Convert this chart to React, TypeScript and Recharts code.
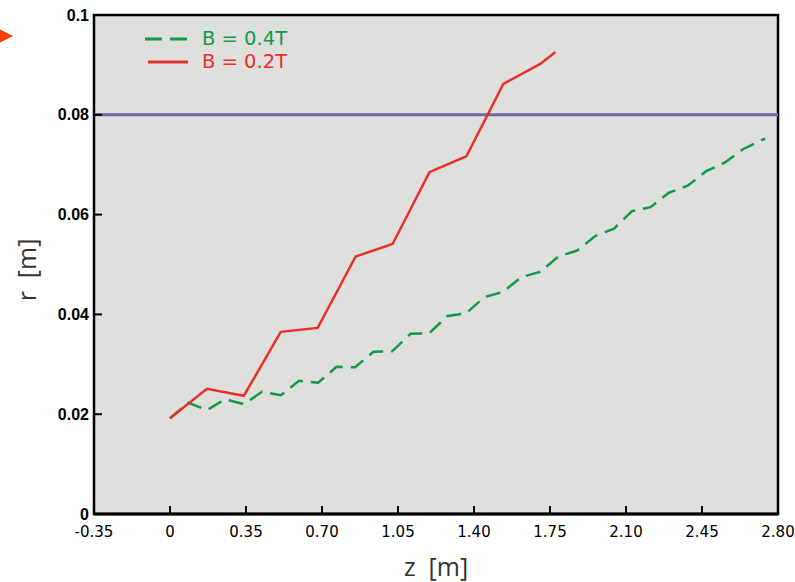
import React from 'react'
import { LineChart, Line, XAxis, YAxis, ReferenceLine, ReferenceArea, CartesianGrid, Legend } from 'recharts'

// axis ticks
const zTicks = [-0.35, 0, 0.35, 0.7, 1.05, 1.4, 1.75, 2.1, 2.45, 2.8]
const zTickLabels = ['-0.35', '0', '0.35', '0.70', '1.05', '1.40', '1.75', '2.10', '2.45', '2.80']
const rTicks = [0, 0.02, 0.04, 0.06, 0.08, 0.1]
const rTickLabels = ['0', '0.02', '0.04', '0.06', '0.08', '0.1']

// B = 0.2T (solid red)
const zLow = [0, 0.17, 0.34, 0.51, 0.68, 0.855, 1.025, 1.195, 1.365, 1.535, 1.705, 1.775]
const rLow = [0.0192, 0.0251, 0.0237, 0.0365, 0.0373, 0.0516, 0.0541, 0.0685, 0.0717, 0.0862, 0.0902, 0.0926]

// B = 0.4T (dashed green)
const zHigh = [
  0, 0.085, 0.17, 0.253, 0.341, 0.424, 0.511, 0.594, 0.682, 0.767, 0.852, 0.937, 1.023, 1.108, 1.193, 1.278,
  1.363, 1.449, 1.534, 1.619, 1.704, 1.789, 1.875, 1.958, 2.045, 2.128, 2.213, 2.298, 2.384, 2.469, 2.554,
  2.639, 2.722, 2.741,
]
const rHigh = [
  0.0192, 0.0223, 0.0208, 0.023, 0.022, 0.0245, 0.0238, 0.0267, 0.0263, 0.0295, 0.0294, 0.0325, 0.0326, 0.0361,
  0.0362, 0.0397, 0.0402, 0.0435, 0.0445, 0.0475, 0.0485, 0.0516, 0.0528, 0.0557, 0.0572, 0.0607, 0.0615, 0.0644,
  0.0658, 0.0687, 0.0704, 0.0731, 0.0749, 0.0752,
]

const limitR = 0.08
const nameHigh = 'B = 0.4T'
const nameLow = 'B = 0.2T'

const GREEN = '#13994a'
const RED = '#e5312b'
const LIMIT = '#6f68a8'
const PLOT_BG = '#dfdfde'
const TEXT_FONT = '"Open Sans", Lato, "DejaVu Sans", sans-serif'
const LEGEND_FONT = '"DejaVu Sans", sans-serif'

const lowData = zLow.map((z, i) => ({ z, r: rLow[i] }))
const highData = zHigh.map((z, i) => ({ z, r: rHigh[i] }))

const labelOf = (ticks: number[], labels: string[]) => (v: number) => {
  const i = ticks.findIndex((t) => Math.abs(t - v) < 1e-6)
  return i >= 0 ? labels[i] : String(v)
}

const noLabel = () => <g />

function LegendBox() {
  const row = { display: 'flex', alignItems: 'center', height: 23, lineHeight: '23px' } as const
  return (
    <div style={{ fontFamily: LEGEND_FONT, fontSize: 19.5 }}>
      <div style={{ ...row, color: GREEN }}>
        <svg width={57} height={23}>
          <line x1={0} x2={43} y1={12} y2={12} stroke={GREEN} strokeWidth={3} strokeDasharray="17 8" />
        </svg>
        <span>{nameHigh}</span>
      </div>
      <div style={{ ...row, color: RED }}>
        <svg width={57} height={23}>
          <line x1={3} x2={43} y1={12} y2={12} stroke={RED} strokeWidth={3} />
        </svg>
        <span>{nameLow}</span>
      </div>
    </div>
  )
}

export default function App() {
  return (
    <div style={{ position: 'absolute', left: 0, top: 0, width: 795, height: 582, background: '#fff' }}>
      <svg width={20} height={60} style={{ position: 'absolute', left: 0, top: 0 }}>
        <polygon points="-3,28 13,36 -3,44" fill="#ff3d00" />
      </svg>
      <LineChart width={795} height={582} margin={{ top: 14, right: 16, bottom: 0, left: 0 }}>
        <CartesianGrid horizontal={false} vertical={false} fill={PLOT_BG} fillOpacity={1} />
        <XAxis
          type="number"
          dataKey="z"
          domain={[-0.35, 2.8]}
          ticks={zTicks}
          interval={0}
          allowDataOverflow
          height={68}
          tickSize={-8}
          tickMargin={20}
          axisLine={{ stroke: '#000', strokeWidth: 3 }}
          tickLine={{ stroke: '#000', strokeWidth: 2 }}
          tick={{ fill: '#000', fontSize: 15, fontFamily: '"DejaVu Sans", sans-serif' }}
          tickFormatter={labelOf(zTicks, zTickLabels)}
          label={{
            content: ({ viewBox }: any) => (
              <text
                x={viewBox.x + viewBox.width / 2}
                y={viewBox.y + viewBox.height - 6}
                textAnchor="middle"
                fill="#333"
                fontSize={25}
                fontFamily={TEXT_FONT}
              >
                {'z\u00a0\u00a0[m]'}
              </text>
            ),
          }}
        />
        <XAxis
          xAxisId="top"
          orientation="top"
          type="number"
          dataKey="z"
          domain={[-0.35, 2.8]}
          ticks={zTicks}
          interval={0}
          height={1}
          tickSize={-8}
          tick={noLabel}
          axisLine={false}
          tickLine={{ stroke: '#000', strokeWidth: 2 }}
        />
        <YAxis
          type="number"
          domain={[0, 0.1]}
          ticks={rTicks}
          interval={0}
          width={94}
          tickSize={-8}
          tickMargin={13}
          axisLine={false}
          tickLine={{ stroke: '#000', strokeWidth: 2 }}
          tick={{ fill: '#000', fontSize: 16, fontWeight: 700, fontFamily: '"Liberation Sans", Arial, sans-serif' }}
          tickFormatter={labelOf(rTicks, rTickLabels)}
          label={{
            content: () => (
              <text
                x={36}
                y={270}
                transform="rotate(-90 36 270)"
                textAnchor="middle"
                fill="#333"
                fontSize={25}
                fontFamily={TEXT_FONT}
              >
                {'r\u00a0\u00a0[m]'}
              </text>
            ),
          }}
        />
        <YAxis
          yAxisId="right"
          orientation="right"
          type="number"
          domain={[0, 0.1]}
          ticks={rTicks}
          interval={0}
          width={1}
          tickSize={-8}
          tick={noLabel}
          axisLine={false}
          tickLine={{ stroke: '#000', strokeWidth: 2 }}
        />
        <ReferenceLine y={limitR} stroke={LIMIT} strokeWidth={3} />
        <Line
          data={highData}
          dataKey="r"
          name={nameHigh}
          stroke={GREEN}
          strokeWidth={2.5}
          strokeDasharray="15 8"
          dot={false}
          isAnimationActive={false}
        />
        <Line
          data={lowData}
          dataKey="r"
          name={nameLow}
          stroke={RED}
          strokeWidth={2.5}
          dot={false}
          isAnimationActive={false}
        />
        <ReferenceArea x1={-0.35} x2={2.8} y1={0} y2={0.1} fill="none" stroke="#000" strokeWidth={2.5} />
        <Legend
          layout="horizontal"
          verticalAlign="middle"
          align="center"
          content={<LegendBox />}
          wrapperStyle={{ left: 145, top: 27, width: 200 }}
        />
      </LineChart>
    </div>
  )
}
